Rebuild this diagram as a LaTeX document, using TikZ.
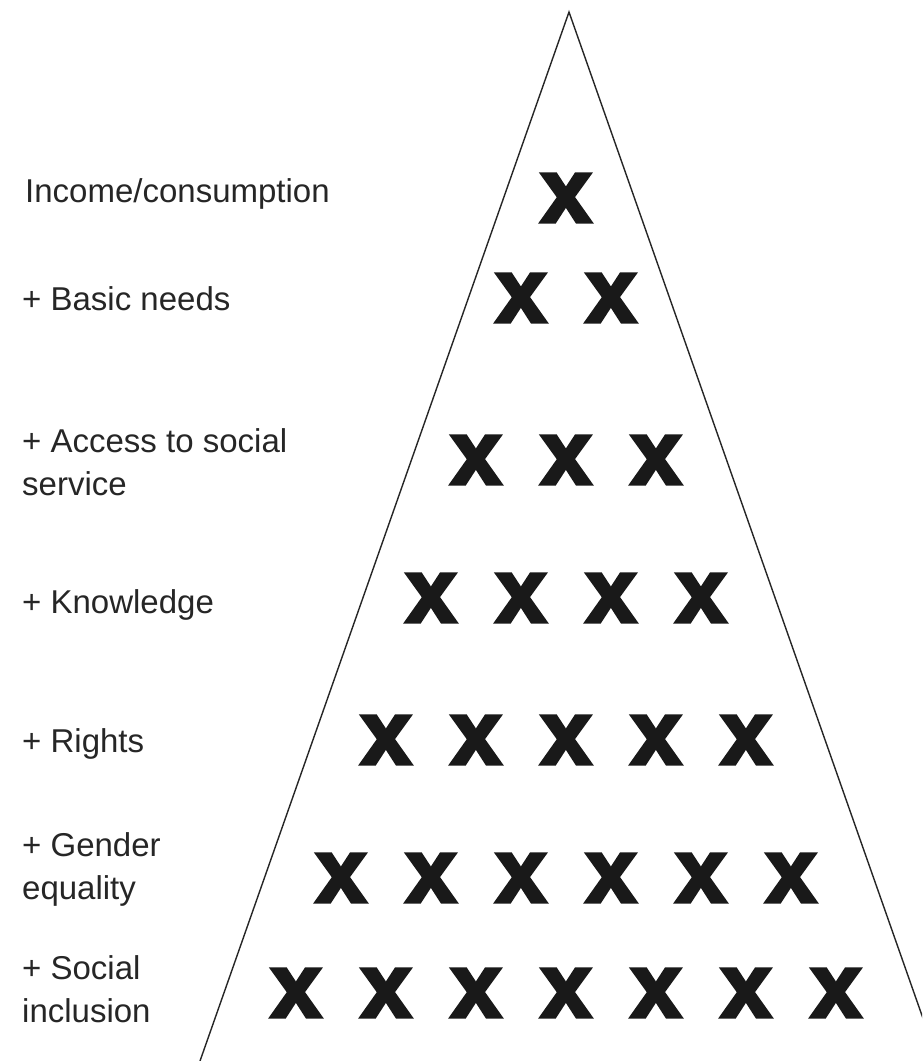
\documentclass[tikz,border=0pt]{standalone}
\usepackage{fontspec}
\setmainfont{Liberation Sans}
\newfontfamily\xfont[BoldFeatures={FakeBold=4}]{Liberation Sans}
\begin{document}
\begin{tikzpicture}[x=1pt,y=-1pt,
  lbl/.style={anchor=base west,align=left,inner sep=0pt,text=black!85,
    font=\fontsize{33}{43}\selectfont},
  xmark/.style={inner sep=0pt,text=black!90,font=\xfont\bfseries\fontsize{90}{90}\selectfont},
  edge/.style={draw=black!85,line width=1.4pt}]
\useasboundingbox (0,0) rectangle (922,1061);
\fill[white] (0,0) rectangle (922,1061);
\begin{scope}
\clip (0,0) rectangle (922,1061);
\coordinate (apex) at (569,12);
\coordinate (bl) at (200,1061);
\coordinate (br) at (938,1061);
\draw[edge] (bl) -- (apex) -- (br);
\end{scope}
% labels (base = baseline of the last line)
\node[lbl] (l1) at (25,202) {Income/consumption};
\node[lbl] (l2) at (22,310) {+ Basic needs};
\node[lbl] (l3) at (22,495) {+ Access to social\\service};
\node[lbl] (l4) at (22,613) {+ Knowledge};
\node[lbl] (l5) at (22,752) {+ Rights};
\node[lbl] (l6) at (22,899) {+ Gender\\equality};
\node[lbl] (l7) at (22,1022) {+ Social\\inclusion};
% x marks
\foreach \n/\yy in {1/198,2/298,3/460,4/598,5/740,6/878,7/993}{
  \foreach \i in {1,...,\n}{
    \node[xmark] (x\n-\i) at ({566+90*(\i-(\n+1)/2)},\yy) {x};
  }
}
\end{tikzpicture}
\end{document}
